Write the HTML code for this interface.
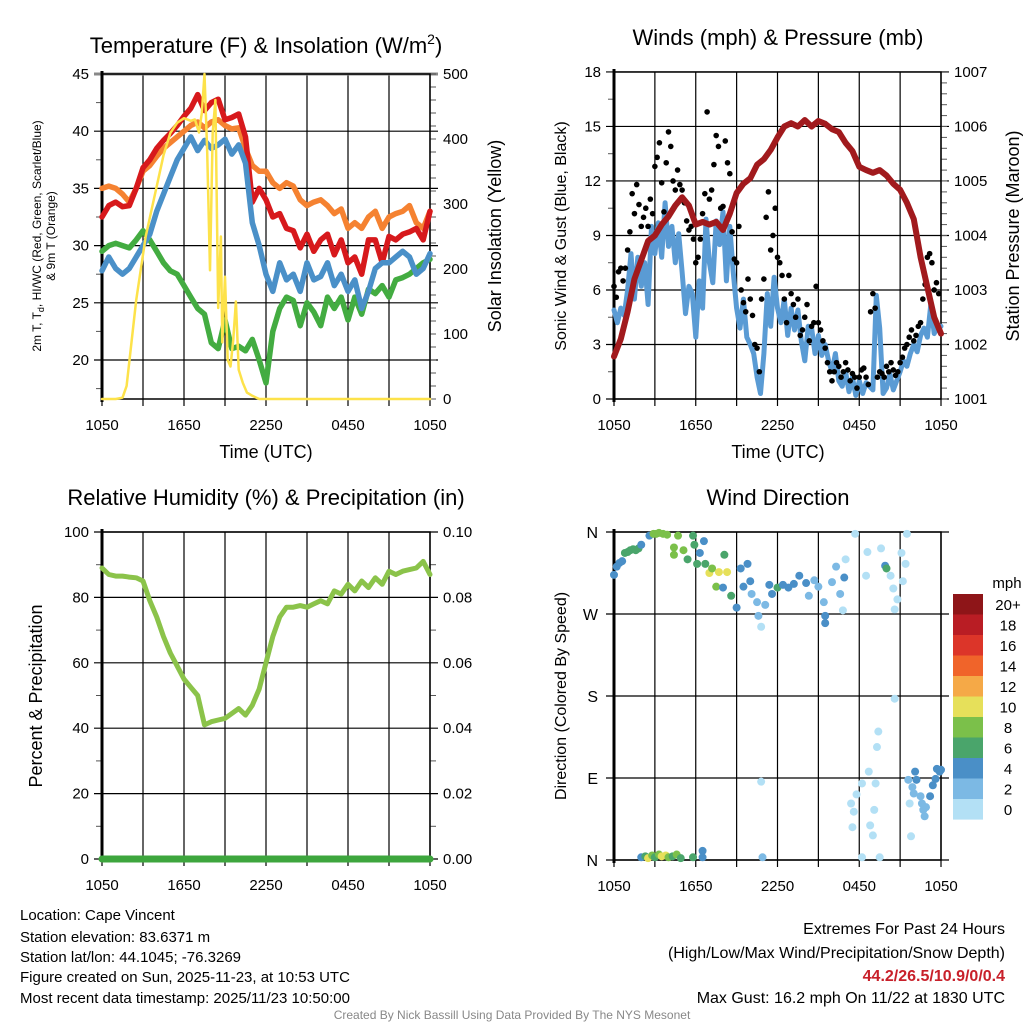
<!DOCTYPE html>
<html><head><meta charset="utf-8">
<style>
html,body{margin:0;padding:0;background:#fff;}
svg{display:block;font-family:"Liberation Sans",sans-serif;}
</style></head>
<body>
<svg id="fig" width="1024" height="1024" viewBox="0 0 1024 1024" xmlns="http://www.w3.org/2000/svg">
<rect x="0" y="0" width="1024" height="1024" fill="#fff"/>
<g id="g1"></g>
<g id="g2"></g>
<g id="g3"></g>
<g id="g4"></g>
<g id="txt">
<text x="266" y="53" font-size="22" text-anchor="middle">Temperature (F) &amp; Insolation (W/m<tspan font-size="14" dy="-9">2</tspan><tspan dy="9">)</tspan></text>
<text x="778" y="45" font-size="22" text-anchor="middle">Winds (mph) &amp; Pressure (mb)</text>
<text x="266" y="505" font-size="22" text-anchor="middle">Relative Humidity (%) &amp; Precipitation (in)</text>
<text x="778" y="505" font-size="22" text-anchor="middle">Wind Direction</text>
<text x="266" y="458" font-size="18" text-anchor="middle">Time (UTC)</text>
<text x="778" y="458" font-size="18" text-anchor="middle">Time (UTC)</text>
<text transform="translate(41,236) rotate(-90)" font-size="12" text-anchor="middle">2m T, T<tspan font-size="9" dy="3">d</tspan><tspan dy="-3">, HI/WC (Red, Green, Scarlet/Blue)</tspan></text>
<text transform="translate(55,236) rotate(-90)" font-size="12" text-anchor="middle">&amp; 9m T (Orange)</text>
<text transform="translate(501,236) rotate(-90)" font-size="18" text-anchor="middle">Solar Insolation (Yellow)</text>
<text transform="translate(566,236) rotate(-90)" font-size="16" text-anchor="middle">Sonic Wind &amp; Gust (Blue, Black)</text>
<text transform="translate(1019,236) rotate(-90)" font-size="18" text-anchor="middle">Station Pressure (Maroon)</text>
<text transform="translate(42,696) rotate(-90)" font-size="18" text-anchor="middle">Percent &amp; Precipitation</text>
<text transform="translate(566,696) rotate(-90)" font-size="16" text-anchor="middle">Direction (Colored By Speed)</text>
<g font-size="15">
<text x="20" y="920">Location: Cape Vincent</text>
<text x="20" y="942">Station elevation: 83.6371 m</text>
<text x="20" y="962">Station lat/lon: 44.1045; -76.3269</text>
<text x="20" y="982">Figure created on Sun, 2025-11-23, at 10:53 UTC</text>
<text x="20" y="1003">Most recent data timestamp: 2025/11/23 10:50:00</text>
</g>
<g font-size="16" text-anchor="end">
<text x="1005" y="934">Extremes For Past 24 Hours</text>
<text x="1005" y="958">(High/Low/Max Wind/Precipitation/Snow Depth)</text>
<text x="1005" y="981" fill="#c8202a" font-weight="bold">44.2/26.5/10.9/0/0.4</text>
<text x="1005" y="1003">Max Gust: 16.2 mph On 11/22 at 1830 UTC</text>
</g>
<text x="512" y="1019" font-size="12" fill="#888" text-anchor="middle">Created By Nick Bassill Using Data Provided By The NYS Mesonet</text>
</g>
</svg>
<script>
// ---------- data ----------
const halfHours = [0,0.5,1,1.5,2,2.5,3,3.5,4,4.5,5,5.5,6,6.5,7,7.5,8,8.5,9,9.5,10,10.5,11,11.5,12,12.5,13,13.5,14,14.5,15,15.5,16,16.5,17,17.5,18,18.5,19,19.5,20,20.5,21,21.5,22,22.5,23,23.5,24];
const xTickLabels = ["1050","1650","2250","0450","1050"];
const tempRed = [32.5,33.5,33.8,33.4,33.5,35,36.8,37.5,38.5,39.2,39.8,40.5,41.3,42,43.2,41.8,42.5,42.8,41,41.2,41.5,39.5,33.8,35,34,32.5,32.8,31.5,31.3,29.8,31,29.5,30.5,31,29.2,30.5,28.5,29,27.5,30.5,30.5,28.5,30.8,30.5,31,31.2,31.5,30.5,33];
const tempOrange = [35,35.2,35,34.5,33.8,35,36.5,37,37.8,38.5,39,39.5,40,40.5,40.8,40.3,40.8,41,40.5,40.2,40.3,38.5,37,36.5,36.5,35.5,35,35.5,35.2,34,33.5,33.8,34,33.5,32.8,33.2,31.5,32,31.5,32.5,33,31.5,32.5,32.8,33,33.5,32,31.5,33];
const tempBlue = [27.8,29,28,27.5,28,29,30,31,33,34.5,36,37.5,38.5,39.5,38.3,39.2,38.5,38.8,39.3,38,38.8,37.2,32,30,27.5,26,28.5,27,27.5,26,28.5,27,27.3,28.5,26.5,27.5,26,27,24.5,26,28,28.5,28.5,29,29.5,29,27.5,28,29.3];
const tempGreen = [29.5,30,30.2,30,29.8,30.5,31.3,30.5,29.5,28.5,27.8,27.5,26.5,25.5,24.5,24,21.5,21,23.5,21,21.2,20.8,21.8,20,18,22.5,24.5,25.5,25.2,23,25,24.2,23,25.5,24.5,25.5,23.5,25.5,24,26.2,25.8,26.5,25.5,27,27.2,27.5,28,28.5,28.8];
const solarT = [0,1,1.5,1.8,2.5,3.2,4,4.5,5,5.5,6,6.5,6.8,7.1,7.3,7.5,7.7,7.9,8.1,8.3,8.5,8.7,8.8,9,9.2,9.4,9.6,9.8,10,10.3,10.6,11,11.5,12,24];
const solarV = [0,0,2,20,152,250,327,375,409,425,432,428,430,410,440,500,380,198,410,460,140,250,87,188,60,50,90,150,45,25,10,5,0,0,0];
const pressure = [1001.78,1002.1,1002.6,1003.2,1003.55,1003.9,1004.0,1004.2,1004.35,1004.55,1004.7,1004.55,1004.2,1004.25,1004.2,1004.25,1004.1,1004.4,1004.78,1004.95,1005.05,1005.3,1005.4,1005.57,1005.8,1006.0,1006.06,1006.0,1006.12,1006.0,1006.1,1006.05,1005.95,1005.9,1005.7,1005.55,1005.26,1005.2,1005.15,1005.2,1005.1,1004.95,1004.84,1004.6,1004.3,1003.6,1003.05,1002.5,1002.2];
const windV = [4.9,4.2,5,4.6, 6,8,5.5,7.8, 6.2,7.5,5.2,9.5, 8,9.7,7.8,10.8, 8.4,9.5,7.5,9.1, 7,4.7,6.2,5.8, 3.4,6.5,5,9.9, 7.5,6.4,9.8,8.5, 10.3,6.5,9.5,7, 5,3.9,5.5,3.4, 3,2.5,1.2,0.3, 2.5,5.8,4,6.7, 5,4.2,5.5,3.5, 5,3.8,4.9,3.2, 2.1,4,3.9,2.5, 3.5,2.4,3,2.1, 1.5,2.5,1,0.7, 1.5,0.4,1.2,0.2, 1,0.3,0.9,0.7, 0.5,5.7,3.9,0.3, 0.6,1.4,0.5,1, 1.5,2.1,1.8,2.5, 3,2.6,3.5,3.9, 3.4,5.2,3.6,4, 4];
const gustV = [6.2,5.6,7,7.2,6.5,7.2, 8.2,9.2,11.3,10.2,11.8,10.7, 9.5,10,10.5,9.5,11,10.2, 12.8,13.3,14.1,11.9,10.3,13, 14.7,13.9,12,11.5,12.6,11.8, 11.5,10.8,9.8,9.3,9.5,8.8, 7.5,7.8,8.8,10.2,11.3,15.8, 11,11.5,12.9,14.5,13.9,10.5, 10.6,14.2,13,12.4,9.2,7.7, 7.5,9.5,6,5.3,4.8,6.6, 5.5,4.6,3,2.8,1.5,5.5, 6.6,10,11.4,8.2,9,10.5, 7.8,7.5,6.8,5.5,4.2,6.8, 5.8,5.2,4.5,5.5,3.5,3.8, 4.5,5.2,3.2,4,4.2,6.2, 4.2,3.8,3.2,2.8,2,1.5, 1,1.5,2,1.8,1.2,1.5, 2,1.6,1,1.4,1.2,0.6, 1.2,1.6,1.7,1.2,0.8,4.8, 5.8,5,1.2,1.5,1.4,1.2, 1.8,1.5,2,1.6,1.3,1.5, 2,2.3,2.8,3,3.4,3.8, 3.2,3.5,4,4.2,5.5,6.3, 7.8,8,7.5,6,6.4,5.8];
const rh = [89,87,86.5,86.5,86.2,86,85,79,74,68,63,59,55,52.5,50,41,42,42.5,43,44.5,46,44,47,52,60,68,74,77,77,77.5,77,78,79,78,82,81,84,82,85,83,86,84,88,87,88,88.5,89,91,87];
const precip = [0,0,0,0,0,0,0,0,0,0,0,0,0,0,0,0,0,0,0,0,0,0,0,0,0,0,0,0,0,0,0,0,0,0,0,0,0,0,0,0,0,0,0,0,0,0,0,0,0];
const dirT = [0,0.2,0.4,0.6,0.8,1,1.2,1.4,1.6,1.8,2,2.6,2.9,3.1,3.3,3.6,3.9,4.4,4.4,4.7,5.1,5.4,5.8,5.9,6.1,6.3,6.6,6.7,7,7.2,7.5,7.7,8,8.1,8.3,8.6,9,9.3,9.5,9.8,10,10.1,10.5,10.6,10.8,11.1,11.4,11.6,12,12.4,12.8,13.2,13.6,14.1,14.3,14.7,15,15.4,15.5,15.5,16,16.3,16.6,16.8,16.9,17,17.7,18.5,18.6,19.6,19.9,20,20.3,20.5,20.6,20.8,21.1,21.2,21.4,21.5,
 2,2.3,2.5,2.8,3,3.3,3.5,3.8,4,4.3,4.6,4.9,5.8,6.5,6.5,10.9,10.8,
 17.4,17.5,17.6,17.8,18.2,18.2,18.7,18.8,19,19.1,19.2,19.3,19.4,19.5,20.6,
 21.6,21.7,21.8,21.9,22,22.1,22.2,22.5,22.6,22.7,22.8,22.9,23.2,23.4,23.6,23.7,23.9,24];
const dirV = [313,322,326,328,337,338,340,341,340,342,346,356,358,358,359,358,357,343,335,356,340,330,356,346,325,337,350,325,315,320,300,316,299,335,316,290,277,320,300,325,306,292,283,268,256,280,302,292,299,302,299,303,312,304,290,307,300,283,268,260,305,322,292,274,310,330,358,312,338,342,323,320,312,298,275,286,337,306,325,358,
 3,4,2,5,3,6,4,5,3,4,6,2,3,10,3,3,86,
 62,36,53,72,84,3,97,38,27,55,84,124,141,3,177,
 88,62,26,80,73,97,88,70,62,55,48,58,70,82,89,100,97,99];
const dirS = [4,4,4,4,6,6,6,7,6,6,4,4,8,8,8,8,8,8,8,8,8,6,6,6,6,4,4,6,10,8,8,10,4,6,10,6,4,4,4,4,4,2,2,2,0,2,4,4,6,4,4,5,4,4,2,2,2,2,4,4,2,2,2,0,4,0,0,0,0,0,5,6,0,0,0,0,0,0,0,0,
 4,6,10,8,6,8,10,10,8,6,8,6,6,4,4,2,0,
 0,0,0,0,0,0,0,0,0,0,0,0,0,0,0,
 2,0,0,2,2,4,4,2,2,2,2,2,4,4,4,4,4,4];
const cbLabels = ["20+","18","16","14","12","10","8","6","4","2","0"];
const cbColors = ["#8e1518","#b91d24","#dc3529","#f0642a","#f5a947","#e6e05a","#7bc04a","#4aa56b","#4a8fc7","#7cb9e4","#b3e0f5"];

// ---------- helpers ----------
const NS = "http://www.w3.org/2000/svg";
function mk(parent, tag, attrs){ const e=document.createElementNS(NS,tag); for(const k in attrs) e.setAttribute(k,attrs[k]); parent.appendChild(e); return e; }
function txt(parent, x, y, s, size, anchor){ const t=mk(parent,'text',{x:x,y:y,'font-size':size,'text-anchor':anchor}); t.textContent=s; return t; }
function xs(P,h){ return P.x0 + h/24*(P.x1-P.x0); }
function lineSeries(g, T, V, yf, P, color, w){
  let d=''; for(let i=0;i<T.length;i++){ d += (i?'L':'M') + xs(P,T[i]).toFixed(1)+','+yf(V[i]).toFixed(1); }
  return mk(g,'path',{d:d,fill:'none',stroke:color,'stroke-width':w,'stroke-linejoin':'round','stroke-linecap':'round'});
}
function frame(g,P){
  for(let k=0;k<=8;k++){ const x=xs(P,k*3);
    const l=mk(g,'line',{x1:x,y1:P.y0,x2:x,y2:P.y1+7,stroke:'#000','stroke-width':1.2});
    
    
  }
  for(let k=0;k<5;k++){ const t=txt(g, xs(P,k*6), P.y1+31, xTickLabels[k], 15, 'middle');
    
    
  }
}
function hgrid(g,P,y,label,lx,rlabel,color){
  const l=mk(g,'line',{x1:P.x0-8,y1:y,x2:P.x1+8,y2:y,stroke:color||'#000','stroke-width':color?3:1.2});
  
  
  if(label!==null){ const t=txt(g,P.x0-13,y+5,label,15,'end');
    
     }
  if(rlabel!==null){ const t=txt(g,P.x1+13,y+5,rlabel,15,'start');
    
     }
}
function border(g,P){
  const r=mk(g,'rect',{x:P.x0,y:P.y0,width:P.x1-P.x0,height:P.y1-P.y0,fill:'none',stroke:'#000','stroke-width':1.5});
  
  
  mk(g,'line',{x1:P.x0,y1:P.y0-3,x2:P.x0,y2:P.y1+3,stroke:'#000','stroke-width':3});
}
function minor(g,x1,x2,ya){ ya.forEach(y=>mk(g,'line',{x1:x1,y1:y,x2:x2,y2:y,stroke:'#555','stroke-width':1})); }

// ---------- panel 1: temperature ----------
const P1={x0:102,x1:430,y0:74,y1:399};
const tY = v => 74 + (45-v)*11.44;
const sY = v => 399 - v*0.65;
const g1=document.getElementById('g1');
frame(g1,P1);
[20,25,30,35,40].forEach(v=>hgrid(g1,P1,tY(v),String(v),0,null));
hgrid(g1,P1,tY(45),'45',0,null,'#888');
[0,100,200,300,400,500].forEach(v=>{ const t=txt(g1,P1.x1+13,sY(v)+5,String(v),15,'start');
  
   });
{ let a=[]; for(let v=17.5;v<45;v+=5) a.push(tY(v)); minor(g1,P1.x0-6,P1.x0,a);
  let b=[]; for(let v=0;v<=500;v+=20) b.push(sY(v)); minor(g1,P1.x1,P1.x1+6,b); }
border(g1,P1);
const sOr=lineSeries(g1,halfHours,tempOrange,tY,P1,'#f58231',5.5);


const sGr=lineSeries(g1,halfHours,tempGreen,tY,P1,'#43ac41',5.5);


const sRd=lineSeries(g1,halfHours,tempRed,tY,P1,'#d7191c',5.5);


const sBl=lineSeries(g1,halfHours,tempBlue,tY,P1,'#4a90c8',5.5);


const sYl=lineSeries(g1,solarT,solarV,sY,P1,'#fde24a',2.5);



// ---------- panel 2: winds ----------
const P2={x0:614,x1:941,y0:72,y1:399};
const wY = v => 399 - v*18.17;
const pY = p => 399 - (p-1001)*54.5;
const g2=document.getElementById('g2');
frame(g2,P2);
[0,3,6,9,12,15,18].forEach((v,i)=>hgrid(g2,P2,wY(v),String(v),0,String(1001+i)));
{ let a=[]; for(let v=1.5;v<18;v+=3) a.push(wY(v)); minor(g2,P2.x0-6,P2.x0,a);
  let b=[]; for(let v=1001;v<=1007;v+=0.2) b.push(pY(v)); minor(g2,P2.x1,P2.x1+6,b); }
border(g2,P2);
const windT = windV.map((v,i)=>i/4);
const sW=lineSeries(g2,windT,windV,wY,P2,'#5a9bd4',5);


gustV.forEach((v,i)=>{ const c=mk(g2,'circle',{cx:xs(P2,i/6),cy:wY(v),r:2.8,fill:'#000'});
  
   });
const sP=lineSeries(g2,halfHours,pressure,pY,P2,'#a11a1d',6);



// ---------- panel 3: humidity ----------
const P3={x0:102,x1:430,y0:532,y1:859};
const rY = v => 859 - v*3.27;
const g3=document.getElementById('g3');
frame(g3,P3);
[0,20,40,60,80,100].forEach((v,i)=>hgrid(g3,P3,rY(v),String(v),0,(i*0.02).toFixed(2)));
{ let a=[]; for(let v=10;v<100;v+=20) a.push(rY(v)); minor(g3,P3.x0-6,P3.x0,a); minor(g3,P3.x1,P3.x1+6,a); }
border(g3,P3);
const sRH=lineSeries(g3,halfHours,rh,rY,P3,'#8bc34a',5);


const sPc=lineSeries(g3,halfHours,precip.map(v=>v*1000),rY,P3,'#3da63d',7);



// ---------- panel 4: direction ----------
const P4={x0:614,x1:941,y0:532,y1:860};
const dY = d => 860 - d/360*328;
const g4=document.getElementById('g4');
frame(g4,P4);
["N","E","S","W","N"].forEach((s,i)=>hgrid(g4,P4,dY(i*90),null,0,null));
["N","E","S","W","N"].forEach((s,i)=>{ const t=txt(g4,598,dY(i*90)+6,s,16,'end');
  
   });
border(g4,P4);
function spColor(s){ const idx=Math.min(10,Math.floor(s/2)); return cbColors[10-idx]; }
dirT.forEach((h,i)=>{ const c=mk(g4,'circle',{cx:xs(P4,h),cy:dY(dirV[i]),r:4,fill:spColor(dirS[i])});
  
   });
// colorbar
const cb=mk(g4,'g',{});


const tm=txt(cb,1007,588,'mph',15,'middle');


cbColors.forEach((c,i)=>{ const r=mk(cb,'rect',{x:953,y:594+i*20.5,width:30,height:20.6,fill:c});
  
  
  const t=txt(cb,1008,594+i*20.5+16,cbLabels[i],15,'middle');
  
   });
</script>
</body></html>
